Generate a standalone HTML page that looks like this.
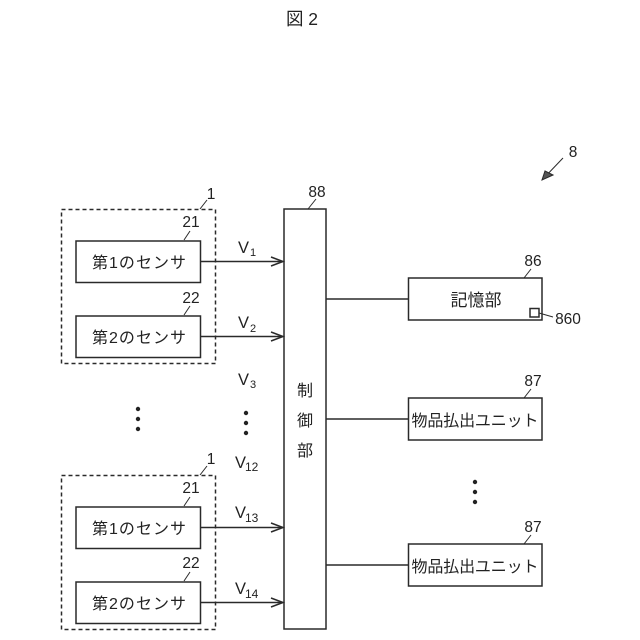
<!DOCTYPE html>
<html><head><meta charset="utf-8"><style>
html,body{margin:0;padding:0;background:#fff}
svg{display:block}
text{font-family:"Liberation Sans","Noto Sans CJK JP",sans-serif;fill:#222}
.j{font-size:16px;text-anchor:middle}
.n{font-size:15.5px;text-anchor:middle}
.v{font-size:16.5px}
.s{font-size:11px}
.t{font-size:12px}
rect{fill:none;stroke:#2a2a2a;stroke-width:1.5}
.d{stroke-dasharray:4 3}
line,path{stroke:#2a2a2a;stroke-width:1.5;fill:none}
.l{stroke-width:1}
circle{fill:#222;stroke:none}
</style></head><body>
<svg width="640" height="640" viewBox="0 0 640 640" xmlns="http://www.w3.org/2000/svg">
<text x="286" y="25" style="font-size:17.5px" textLength="32" lengthAdjust="spacing">図2</text>
<text x="573" y="157" class="n">8</text>
<line x1="563" y1="158" x2="542" y2="180" class="l"/>
<path d="M553 175L542 180L545 171Z" class="l" style="fill:#555"/>

<!-- Group 1 -->
<rect x="61.500" y="209.500" width="154" height="154" class="d"/>
<rect x="76" y="241" width="124.500" height="41.500"/>
<rect x="76" y="316" width="124.500" height="41.500"/>
<text x="139" y="268" class="j" textLength="94" lengthAdjust="spacing">第1のセンサ</text>
<text x="139" y="343" class="j" textLength="94" lengthAdjust="spacing">第2のセンサ</text>
<text x="211" y="199" class="n">1</text>
<line x1="207" y1="200" x2="200" y2="209" class="l"/>
<text x="191" y="227" class="n">21</text>
<line x1="190" y1="231" x2="184" y2="240" class="l"/>
<text x="191" y="303" class="n">22</text>
<line x1="190" y1="306" x2="184" y2="315" class="l"/>

<!-- Group 2 -->
<rect x="61.500" y="475.500" width="154" height="154" class="d"/>
<rect x="76" y="507" width="124.500" height="41.500"/>
<rect x="76" y="582" width="124.500" height="41.500"/>
<text x="139" y="534" class="j" textLength="94" lengthAdjust="spacing">第1のセンサ</text>
<text x="139" y="609" class="j" textLength="94" lengthAdjust="spacing">第2のセンサ</text>
<text x="211" y="464" class="n">1</text>
<line x1="207" y1="466" x2="200" y2="475" class="l"/>
<text x="191" y="493" class="n">21</text>
<line x1="190" y1="497" x2="184" y2="506" class="l"/>
<text x="191" y="568" class="n">22</text>
<line x1="190" y1="572" x2="184" y2="581" class="l"/>

<!-- Dots -->
<circle cx="138" cy="409" r="2.200"/><circle cx="138" cy="419" r="2.200"/><circle cx="138" cy="429" r="2.200"/>
<circle cx="246" cy="413" r="2.200"/><circle cx="246" cy="423" r="2.200"/><circle cx="246" cy="433" r="2.200"/>
<circle cx="475" cy="482" r="2.200"/><circle cx="475" cy="492" r="2.200"/><circle cx="475" cy="502" r="2.200"/>

<!-- Arrows -->
<line x1="200" y1="261.500" x2="283" y2="261.500"/><path d="M271 257L283 261.500L271 266"/>
<line x1="200" y1="336.500" x2="283" y2="336.500"/><path d="M271 332L283 336.500L271 341"/>
<line x1="200" y1="527.500" x2="283" y2="527.500"/><path d="M271 523L283 527.500L271 532"/>
<line x1="200" y1="602.500" x2="283" y2="602.500"/><path d="M271 598L283 602.500L271 607"/>

<!-- V labels -->
<text x="238" y="253" class="v">V</text><text x="250" y="256" class="s">1</text>
<text x="238" y="328" class="v">V</text><text x="250" y="332" class="s">2</text>
<text x="238" y="385" class="v">V</text><text x="250" y="388" class="s">3</text>
<text x="235" y="468" class="v">V</text><text x="245" y="471" class="t">12</text>
<text x="235" y="518" class="v">V</text><text x="245" y="522" class="t">13</text>
<text x="235" y="594" class="v">V</text><text x="245" y="598" class="t">14</text>

<!-- Control -->
<rect x="284" y="209" width="42" height="420"/>
<text x="305" y="396" class="j">制</text>
<text x="305" y="426" class="j">御</text>
<text x="305" y="456" class="j">部</text>
<text x="317" y="197" class="n">88</text>
<line x1="316" y1="199" x2="308" y2="209" class="l"/>

<!-- Right lines -->
<line x1="326" y1="299" x2="408" y2="299"/>
<line x1="326" y1="419" x2="408" y2="419"/>
<line x1="326" y1="565" x2="408" y2="565"/>

<!-- 86 -->
<rect x="408.500" y="278" width="133.500" height="42"/>
<text x="476" y="306" class="j" style="font-size:17px">記憶部</text>
<rect x="530" y="308.500" width="9" height="8.500" stroke-width="1"/>
<line x1="539" y1="313" x2="553" y2="317" class="l"/>
<text x="568" y="324" class="n">860</text>
<text x="533" y="266" class="n">86</text>
<line x1="531" y1="269" x2="524" y2="278" class="l"/>

<!-- 87 top -->
<rect x="408.500" y="398" width="133.500" height="42"/>
<text x="475" y="426" class="j" textLength="127" lengthAdjust="spacing">物品払出ユニット</text>
<text x="533" y="386" class="n">87</text>
<line x1="531" y1="389" x2="524" y2="398" class="l"/>

<!-- 87 bottom -->
<rect x="408.500" y="544" width="133.500" height="42"/>
<text x="475" y="572" class="j" textLength="127" lengthAdjust="spacing">物品払出ユニット</text>
<text x="533" y="532" class="n">87</text>
<line x1="531" y1="535" x2="524" y2="544" class="l"/>
</svg>
</body></html>
